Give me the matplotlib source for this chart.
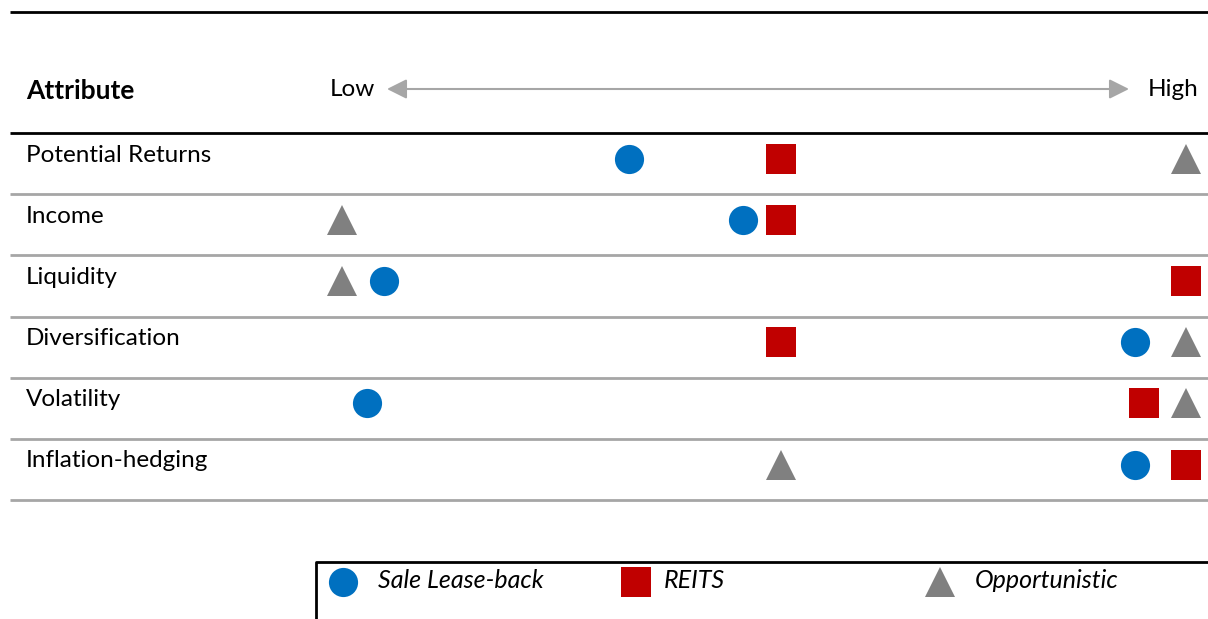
import numpy as np
import matplotlib.pyplot as plt

plt.rcParams['font.family'] = ['Lato', 'DejaVu Sans']

# rows of the comparison table
attributes = ["Potential Returns", "Income", "Liquidity",
              "Diversification", "Volatility", "Inflation-hedging"]

# scores on a Low (0) -> High (100) scale
sale_leaseback = [34, 47.5, 5, 94, 3, 94]
reits = [52, 52, 100, 52, 95, 100]
opportunistic = [100, 0, 0, 100, 100, 52]

series_names = ["Sale Lease-back", "REITS", "Opportunistic"]
series_colors = ["#0070c0", "#c00000", "#808080"]
series_markers = ["o", "s", "^"]

W, H = 1208, 619


def fx(x):
    return x / W


def fy(y):
    return 1 - y / H


fig = plt.figure(figsize=(W / 100, H / 100), dpi=100)

# main axes covers the whole figure; x in score units, y in row units
ax = fig.add_axes([0, 0, 1, 1])
x0, xs = 342, 8.44          # pixel of score 0, pixels per score unit
y0, ys = 133, 61.17         # pixel of table top, pixels per row
ax.set_xlim(-x0 / xs, (W - x0) / xs)
ax.set_ylim((H - y0) / ys, -y0 / ys)
ax.axis("off")

n = len(attributes)
rows = np.arange(n)

# table lines
lx0, lx1 = 10 / xs - x0 / xs, ax.get_xlim()[1]
ax.plot([lx0, lx1], [-(133 - 12) / ys] * 2, color="black", lw=2, solid_capstyle="butt")
ax.plot([lx0, lx1], [0, 0], color="black", lw=2, solid_capstyle="butt")
for r in rows:
    ax.plot([lx0, lx1], [r + 1, r + 1], color="#a6a6a6", lw=2, solid_capstyle="butt")

# row labels
for r, name in zip(rows, attributes):
    ax.text(lx0 + 16 / xs, r + 0.36, name, fontsize=17.5, va="center", ha="left")

# markers
for vals, col, mk in zip([sale_leaseback, reits, opportunistic], series_colors, series_markers):
    ax.plot(vals, rows + 0.42, linestyle="none", marker=mk, color=col,
            markersize=21, markeredgewidth=0)

# header
fig.text(fx(26), fy(91), "Attribute", fontsize=19, fontweight="bold", va="center", ha="left")
fig.text(fx(330), fy(90), "Low", fontsize=17.5, va="center", ha="left")
fig.text(fx(1198), fy(90), "High", fontsize=17.5, va="center", ha="right")
ax.annotate("", xy=(fx(1129), fy(89)), xytext=(fx(387), fy(89)),
            xycoords="figure fraction", textcoords="figure fraction",
            arrowprops=dict(arrowstyle="<|-|>,head_length=0.6,head_width=0.3",
                            color="#a6a6a6", lw=1.5,
                            mutation_scale=20, shrinkA=0, shrinkB=0))

# legend box (runs off the bottom/right edge)
ax.plot([316 / xs - x0 / xs, 316 / xs - x0 / xs, lx1],
        [(H + 10 - y0) / ys, (562 - y0) / ys, (562 - y0) / ys],
        color="black", lw=2, clip_on=False)
leg_x = [343, 636, 940]
for name, col, mk, lx in zip(series_names, series_colors, series_markers, leg_x):
    ax.plot([(lx - x0) / xs], [(582 - y0) / ys], linestyle="none", marker=mk,
            color=col, markersize=21, markeredgewidth=0)
    fig.text(fx(lx + 35 if mk != "s" else lx + 28), fy(580), name, fontsize=18,
             style="italic", va="center", ha="left")

fig.savefig("out.png", dpi=100)
